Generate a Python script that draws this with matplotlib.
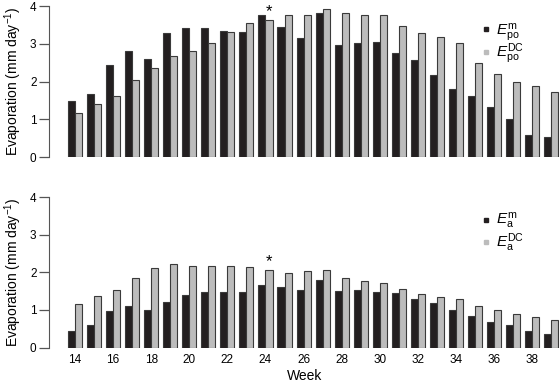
import numpy as np
import matplotlib.pyplot as plt
from matplotlib.lines import Line2D

plt.rcParams['font.family'] = ['Liberation Sans', 'DejaVu Sans']
plt.rcParams['mathtext.fontset'] = 'custom'
plt.rcParams['mathtext.rm'] = 'Liberation Sans'
plt.rcParams['mathtext.it'] = 'Liberation Sans:italic'

weeks = np.arange(14, 40)
epo_m = [1.49, 1.66, 2.45, 2.82, 2.60, 3.28, 3.43, 3.43, 3.34, 3.30, 3.76, 3.45, 3.16,
         3.82, 2.97, 3.01, 3.05, 2.75, 2.56, 2.16, 1.81, 1.61, 1.32, 1.00, 0.58, 0.54]
epo_dc = [1.17, 1.40, 1.62, 2.05, 2.37, 2.67, 2.81, 3.03, 3.30, 3.54, 3.62, 3.75, 3.75,
          3.93, 3.81, 3.76, 3.76, 3.46, 3.29, 3.18, 3.03, 2.48, 2.21, 2.00, 1.89, 1.73]
ea_m = [0.43, 0.60, 0.96, 1.11, 1.00, 1.21, 1.39, 1.48, 1.48, 1.48, 1.66, 1.61, 1.53,
        1.79, 1.51, 1.52, 1.47, 1.44, 1.30, 1.18, 1.00, 0.85, 0.68, 0.59, 0.43, 0.36]
ea_dc = [1.16, 1.37, 1.53, 1.86, 2.10, 2.22, 2.17, 2.16, 2.16, 2.14, 2.05, 1.98, 2.04,
         2.05, 1.84, 1.77, 1.71, 1.56, 1.42, 1.35, 1.30, 1.09, 0.99, 0.90, 0.82, 0.72]
star_week = 24

dark = '#231f20'
light = '#bcbcbc'
edge = '#3a3a3a'
w = 0.37

fig = plt.figure(figsize=(5.6, 3.85), dpi=100)
ax1 = fig.add_axes([0.0875, 0.5922, 0.9125, 0.3922])
ax2 = fig.add_axes([0.0875, 0.0974, 0.9125, 0.3909])

panels = [(ax1, epo_m, epo_dc, r'$E_{\rm po}^{\rm m}$', r'$E_{\rm po}^{\rm DC}$', 0.95, -0.1),
          (ax2, ea_m, ea_dc, r'$E_{\rm a}^{\rm m}$', r'$E_{\rm a}^{\rm DC}$', 0.955, 0.0)]

for ax, m, dc, lm, ldc, ly, lsp in panels:
    ax.bar(weeks - w / 2, m, w, color=dark, edgecolor=edge, linewidth=0.8)
    ax.bar(weeks + w / 2, dc, w, color=light, edgecolor=edge, linewidth=0.8)
    i = list(weeks).index(star_week)
    ax.text(star_week + w / 2, dc[i] + 0.02, '*', ha='center', va='bottom', fontsize=12)
    ax.set_xlim(12.63, 39.47)
    ax.set_ylim(0, 4)
    ax.set_yticks([0, 1, 2, 3, 4])
    for s in ['top', 'right', 'bottom']:
        ax.spines[s].set_visible(False)
    ax.spines['left'].set_color('#555555')
    ax.tick_params(axis='y', length=7, width=0.9, color='#555555', labelsize=8.5, pad=2)
    ax.tick_params(axis='x', length=0, labelsize=8.5, pad=5)
    ax.set_ylabel('Evaporation (mm day$^{-1}$)', fontsize=10, labelpad=4)
    handles = [Line2D([], [], marker='s', ls='', color=dark, markersize=3.5),
               Line2D([], [], marker='s', ls='', color=light, markersize=3.5)]
    ax.legend(handles, [lm, ldc], loc='upper left', bbox_to_anchor=(0.823, ly),
              frameon=False, fontsize=11, handletextpad=0.0, labelspacing=lsp,
              borderpad=0, handlelength=1.2)

ax1.set_xticks([])
ax2.set_xticks(np.arange(14, 40, 2))
ax2.set_xlabel('Week', fontsize=10, labelpad=2)

fig.savefig('out.png', dpi=100)
